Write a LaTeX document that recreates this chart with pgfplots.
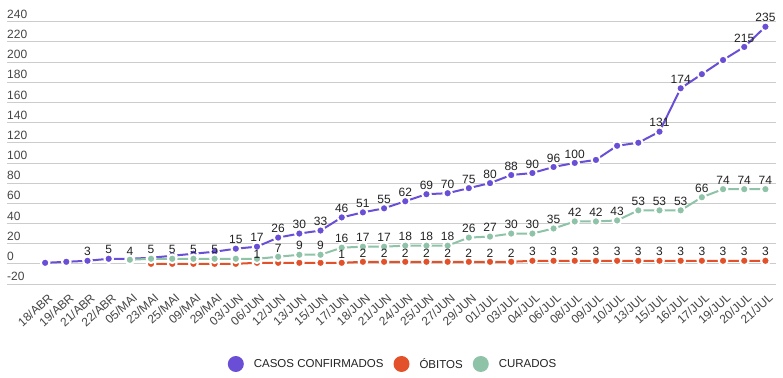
\documentclass[border=0pt]{standalone}
\usepackage{pgfplots}
\pgfplotsset{compat=1.18}
\usepackage{pgfplotstable}
\usepackage{fontspec}
\setmainfont{Liberation Sans}
\definecolor{cPur}{HTML}{6A4FD6}
\definecolor{cRed}{HTML}{E2512A}
\definecolor{cGrn}{HTML}{8EC3A7}
\definecolor{cGrid}{HTML}{CCCCCC}
\definecolor{cTick}{HTML}{444444}
\definecolor{cLab}{HTML}{222222}

\pgfplotstableread{
x y
0 1
1 2
2 3
3 5
4 5
5 6
6 8
7 10
8 12
9 15
10 17
11 26
12 30
13 33
14 46
15 51
16 55
17 62
18 69
19 70
20 75
21 80
22 88
23 90
24 96
25 100
26 103
27 117
28 120
29 131
30 174
31 188
32 202
33 215
34 235
}\confirmed

\pgfplotstableread{
x y
5 0
6 0
7 0
8 0
9 0
10 1
11 1
12 1
13 1
14 1
15 2
16 2
17 2
18 2
19 2
20 2
21 2
22 2
23 3
24 3
25 3
26 3
27 3
28 3
29 3
30 3
31 3
32 3
33 3
34 3
}\obitos

\pgfplotstableread{
x y
4 4
5 5
6 5
7 5
8 5
9 5
10 5
11 7
12 9
13 9
14 16
15 17
16 17
17 18
18 18
19 18
20 26
21 27
22 30
23 30
24 35
25 42
26 42
27 43
28 53
29 53
30 53
31 66
32 74
33 74
34 74
}\curados

\pgfplotstableread{
x y lab
2 3 3
3 5 5
9 15 15
10 17 17
11 26 26
12 30 30
13 33 33
14 46 46
15 51 51
16 55 55
17 62 62
18 69 69
19 70 70
20 75 75
21 80 80
22 88 88
23 90 90
24 96 96
25 100 100
29 131 131
30 174 174
33 215 215
34 235 235
}\confirmedlab

\pgfplotstableread{
x y lab
10 1 1
14 1 1
15 2 2
16 2 2
17 2 2
18 2 2
19 2 2
20 2 2
21 2 2
22 2 2
23 3 3
24 3 3
25 3 3
26 3 3
27 3 3
28 3 3
29 3 3
30 3 3
31 3 3
32 3 3
33 3 3
34 3 3
}\obitoslab

\pgfplotstableread{
x y lab
4 4 4
5 5 5
6 5 5
7 5 5
8 5 5
11 7 7
12 9 9
13 9 9
14 16 16
15 17 17
16 17 17
17 18 18
18 18 18
19 18 18
20 26 26
21 27 27
22 30 30
23 30 30
24 35 35
25 42 42
26 42 42
27 43 43
28 53 53
29 53 53
30 53 53
31 66 66
32 74 74
33 74 74
34 74 74
}\curadoslab

\begin{document}
\begin{tikzpicture}
\begin{axis}[
  scale only axis,
  width=769pt, height=262.3pt,
  xmin=-1.8, xmax=34.5, ymin=-20, ymax=240,
  ytick={-20,0,...,240},
  xtick={0,...,34},
  xticklabels={18/ABR,19/ABR,21/ABR,22/ABR,05/MAI,23/MAI,25/MAI,09/MAI,29/MAI,03/JUN,06/JUN,12/JUN,13/JUN,15/JUN,17/JUN,18/JUN,21/JUN,24/JUN,25/JUN,27/JUN,29/JUN,01/JUL,03/JUL,04/JUL,06/JUL,08/JUL,09/JUL,10/JUL,13/JUL,15/JUL,16/JUL,17/JUL,19/JUL,20/JUL,21/JUL},
  axis line style={draw=none},
  major tick length=0pt,
  ymajorgrids,
  grid style={cGrid, line width=0.8pt},
  tick label style={font=\fontsize{12}{14}\selectfont, text=cTick},
  /pgf/number format/assume math mode=true,
  yticklabel style={anchor=south west, inner sep=0pt, yshift=3pt},
  xticklabel style={rotate=42, anchor=north east, inner sep=0pt, xshift=-4pt, yshift=-8pt},
  clip=false,
  legend columns=3,
  legend style={at={(0.502,-0.305)}, anchor=center, draw=none, fill=none,
    font=\fontsize{11.5}{14}\selectfont, text=cLab,
    /tikz/every odd column/.append style={column sep=8pt},
    /tikz/every even column/.append style={column sep=8pt}},
  legend image code/.code={\fill[#1, draw=none] (4pt,0pt) circle (8pt);},
  every node near coord/.style={font=\fontsize{12}{14}\selectfont, text=cLab, anchor=south, inner sep=0pt, yshift=4.5pt},
]
\addplot[color=cPur, line width=2pt, mark=*, mark size=4.3pt,
  mark options={draw=white, line width=2pt, fill=cPur}] table[x=x,y=y] {\confirmed};
\addlegendentry{CASOS CONFIRMADOS}
\addplot[color=cRed, line width=2pt, mark=*, mark size=4.3pt,
  mark options={draw=white, line width=2pt, fill=cRed}] table[x=x,y=y] {\obitos};
\addlegendentry{ÓBITOS}
\addplot[color=cGrn, line width=2pt, mark=*, mark size=4.3pt,
  mark options={draw=white, line width=2pt, fill=cGrn}] table[x=x,y=y] {\curados};
\addlegendentry{CURADOS}

\addplot[forget plot, draw=none, mark=none, nodes near coords, point meta=explicit symbolic]
  table[x=x, y=y, meta=lab] {\confirmedlab};
\addplot[forget plot, draw=none, mark=none, nodes near coords, point meta=explicit symbolic]
  table[x=x, y=y, meta=lab] {\obitoslab};
\addplot[forget plot, draw=none, mark=none, nodes near coords, point meta=explicit symbolic]
  table[x=x, y=y, meta=lab] {\curadoslab};

\coordinate (sw) at (rel axis cs:0,0);
\coordinate (ne) at (rel axis cs:1,1);
\end{axis}
\pgfresetboundingbox
\path ([shift={(-7pt,-94pt)}]sw) rectangle ([shift={(7pt,21.7pt)}]ne);
\end{tikzpicture}
\end{document}
